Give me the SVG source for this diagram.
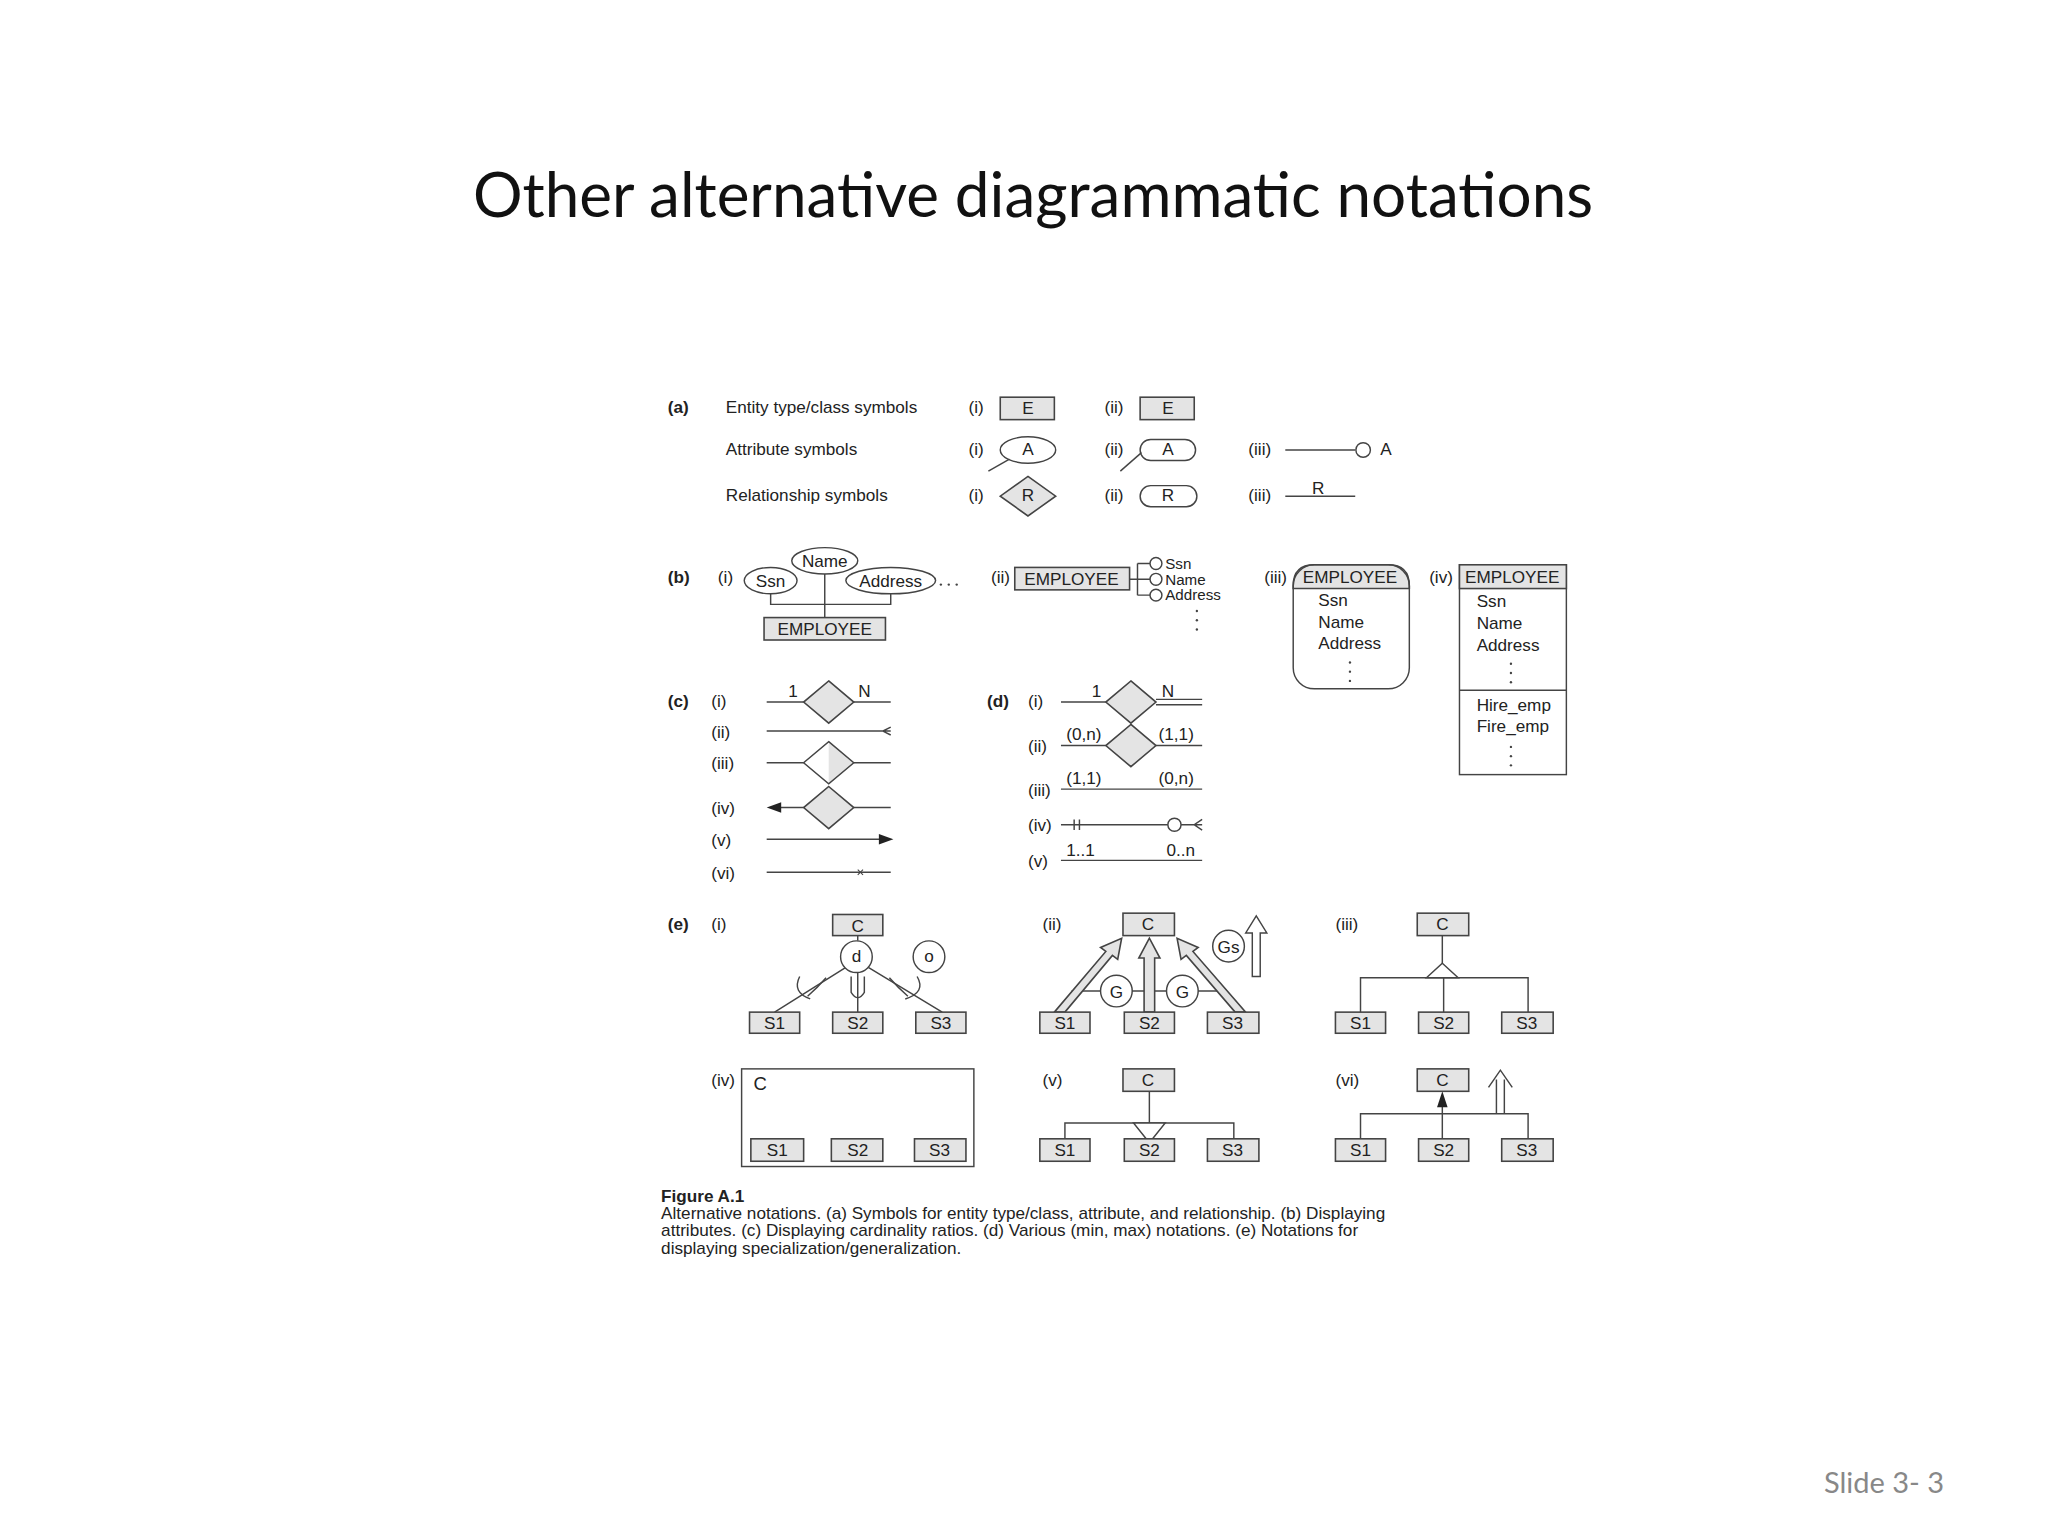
<svg xmlns="http://www.w3.org/2000/svg" width="2048" height="1536" viewBox="0 0 2048 1536">
<style>
text{font-family:"Liberation Sans",Arial,sans-serif;font-size:13px;fill:#222}
.b{font-weight:bold}
.m{text-anchor:middle}
.s{font-size:11.5px}
.g{fill:#e4e4e4;stroke:#444;stroke-width:1.2}
.w{fill:#fff;stroke:#444;stroke-width:1.1}
.l{fill:none;stroke:#444;stroke-width:1.1}
.d{fill:#444}
</style>
<rect width="2048" height="1536" fill="#fff"/>
<text x="1033" y="217" style="font-family:Lato,'Open Sans',sans-serif;font-size:62px;text-anchor:middle;fill:#111">Other alternative diagrammatic notations</text>
<text x="1944" y="1493" style="font-family:Lato,'Open Sans',sans-serif;font-size:29px;text-anchor:end;fill:#888">Slide 3- 3</text>
<g transform="scale(1.3196)">
<g id="a">
<text x="506" y="313" class="b">(a)</text>
<text x="550" y="313">Entity type/class symbols</text>
<text x="550" y="345">Attribute symbols</text>
<text x="550" y="380">Relationship symbols</text>
<text x="734" y="313">(i)</text><text x="837" y="313">(ii)</text>
<text x="734" y="345">(i)</text><text x="837" y="345">(ii)</text><text x="946" y="345">(iii)</text>
<text x="734" y="380">(i)</text><text x="837" y="380">(ii)</text><text x="946" y="380">(iii)</text>
<rect class="g" x="758" y="301" width="41" height="17"/><text x="779" y="314" class="m">E</text>
<rect class="g" x="864" y="301" width="41" height="17"/><text x="885" y="314" class="m">E</text>
<ellipse class="w" cx="779" cy="341" rx="21" ry="10"/><text x="779" y="345" class="m">A</text>
<line class="l" x1="749" y1="357" x2="765" y2="348"/>
<rect class="w" x="864" y="333" width="42" height="16" rx="8"/><text x="885" y="345" class="m">A</text>
<line class="l" x1="849" y1="357" x2="865" y2="343"/>
<line class="l" x1="974" y1="341" x2="1027" y2="341"/><circle class="w" cx="1033" cy="341" r="5.5"/><text x="1046" y="345">A</text>
<path class="g" d="M779,361L800,376L779,391L758,376z"/><text x="779" y="380" class="m">R</text>
<rect class="w" x="864" y="368" width="43" height="16" rx="8"/><text x="885" y="380" class="m">R</text>
<line class="l" x1="974" y1="376" x2="1027" y2="376"/><text x="999" y="374" class="m">R</text>
</g>
<g id="b">
<text x="506" y="442" class="b">(b)</text>
<text x="544" y="442">(i)</text>
<polyline class="l" points="584,450 584,458 675,458 675,450"/>
<line class="l" x1="625" y1="435" x2="625" y2="468"/>
<ellipse class="w" cx="584" cy="440" rx="20" ry="10"/><text x="584" y="445" class="m">Ssn</text>
<ellipse class="w" cx="625" cy="425" rx="25" ry="10"/><text x="625" y="430" class="m">Name</text>
<ellipse class="w" cx="675" cy="440" rx="34" ry="10"/><text x="675" y="445" class="m">Address</text>
<circle class="d" cx="713" cy="443" r="0.9"/><circle class="d" cx="719" cy="443" r="0.9"/><circle class="d" cx="725" cy="443" r="0.9"/>
<rect class="g" x="579" y="468" width="92" height="17"/><text x="625" y="481" class="m">EMPLOYEE</text>
<text x="751" y="442">(ii)</text>
<rect class="g" x="769" y="430" width="87" height="17"/><text x="812" y="443" class="m">EMPLOYEE</text>
<path class="l" d="M856,439H862M862,427V451M862,427H872M862,439H872M862,451H872"/>
<circle class="w" cx="876" cy="427" r="4.5"/><circle class="w" cx="876" cy="439" r="4.5"/><circle class="w" cx="876" cy="451" r="4.5"/>
<text x="883" y="431" class="s">Ssn</text><text x="883" y="443" class="s">Name</text><text x="883" y="455" class="s">Address</text>
<circle class="d" cx="907" cy="463" r="0.9"/><circle class="d" cx="907" cy="470" r="0.9"/><circle class="d" cx="907" cy="477" r="0.9"/>
<text x="958" y="442">(iii)</text>
<path class="g" d="M980,446V444Q980,428 996,428H1052Q1068,428 1068,444V446z"/>
<rect class="l" x="980" y="428" width="88" height="94" rx="16"/>
<text x="1023" y="442" class="m">EMPLOYEE</text>
<text x="999" y="459">Ssn</text><text x="999" y="476">Name</text><text x="999" y="492">Address</text>
<circle class="d" cx="1023" cy="502" r="0.9"/><circle class="d" cx="1023" cy="509" r="0.9"/><circle class="d" cx="1023" cy="516" r="0.9"/>
<text x="1083" y="442">(iv)</text>
<rect class="w" x="1106" y="428" width="81" height="159"/>
<rect class="g" x="1106" y="428" width="81" height="18"/>
<line class="l" x1="1106" y1="523" x2="1187" y2="523"/>
<text x="1146" y="442" class="m">EMPLOYEE</text>
<text x="1119" y="460">Ssn</text><text x="1119" y="477">Name</text><text x="1119" y="493">Address</text>
<circle class="d" cx="1145" cy="503" r="0.9"/><circle class="d" cx="1145" cy="510" r="0.9"/><circle class="d" cx="1145" cy="517" r="0.9"/>
<text x="1119" y="539">Hire_emp</text><text x="1119" y="555">Fire_emp</text>
<circle class="d" cx="1145" cy="566" r="0.9"/><circle class="d" cx="1145" cy="573" r="0.9"/><circle class="d" cx="1145" cy="580" r="0.9"/>
</g>
<g id="c">
<text x="506" y="536" class="b">(c)</text>
<text x="539" y="536">(i)</text><text x="539" y="559">(ii)</text><text x="539" y="583">(iii)</text>
<text x="539" y="617">(iv)</text><text x="539" y="641">(v)</text><text x="539" y="666">(vi)</text>
<path class="l" d="M581,532H609M647,532H675"/>
<path class="g" d="M628,516L647,532L628,548L609,532z"/>
<text x="601" y="528" class="m">1</text><text x="655" y="528" class="m">N</text>
<path class="l" d="M581,554H675M675,551L669,554L675,557"/>
<path class="l" d="M581,578H609M647,578H675"/>
<path d="M628,562L647,578L628,594z" fill="#e4e4e4"/>
<path class="l" d="M628,562L647,578L628,594L609,578z"/>
<path class="l" d="M588,612H609M647,612H675"/>
<path d="M581,612L592,608L592,616z" fill="#222"/>
<path class="g" d="M628,596L647,612L628,628L609,612z"/>
<path class="l" d="M581,636H668"/><path d="M677,636L666,632L666,640z" fill="#222"/>
<path class="l" d="M581,661H675"/><path class="l" d="M650,659L654,663M654,659L650,663" style="stroke-width:0.8"/>
</g>
<g id="d">
<text x="748" y="536" class="b">(d)</text>
<text x="779" y="536">(i)</text><text x="779" y="570">(ii)</text><text x="779" y="603">(iii)</text>
<text x="779" y="630">(iv)</text><text x="779" y="657">(v)</text>
<path class="l" d="M804,532H838M876,530H911M876,534H911"/>
<path class="g" d="M857,516L876,532L857,548L838,532z"/>
<text x="831" y="528" class="m">1</text><text x="885" y="528" class="m">N</text>
<path class="l" d="M804,565H838M876,565H911"/>
<path class="g" d="M857,549L876,565L857,581L838,565z"/>
<text x="808" y="561">(0,n)</text><text x="878" y="561">(1,1)</text>
<path class="l" d="M804,598H911"/>
<text x="808" y="594">(1,1)</text><text x="878" y="594">(0,n)</text>
<path class="l" d="M804,625H885M895,625H911M814,621V629M818,621V629M911,621L905,625L911,629"/>
<circle class="w" cx="890" cy="625" r="5"/>
<path class="l" d="M804,652H911"/>
<text x="808" y="649">1..1</text><text x="884" y="649">0..n</text>
</g>
<g id="e1">
<text x="506" y="705" class="b">(e)</text>
<text x="539" y="705">(i)</text>
<path class="l" d="M650,709V713M641,733L587,767M650,737V767M658,733L714,767"/>
<path class="l" d="M606,740Q600,752 614,757M626,741Q620,748 612,755M645,740V752Q650,760 655,752V740M695,740Q702,752 686,757M674,741Q680,748 688,755"/>
<rect class="g" x="631" y="693" width="38" height="16"/><text x="650" y="706" class="m">C</text>
<circle class="w" cx="649" cy="725" r="12"/><text x="649" y="729" class="m">d</text>
<circle class="w" cx="704" cy="725" r="12"/><text x="704" y="729" class="m">o</text>
<rect class="g" x="568" y="767" width="38" height="16"/><text x="587" y="780" class="m">S1</text>
<rect class="g" x="631" y="767" width="38" height="16"/><text x="650" y="780" class="m">S2</text>
<rect class="g" x="694" y="767" width="38" height="16"/><text x="713" y="780" class="m">S3</text>
</g>
<g id="e2">
<text x="790" y="705">(ii)</text>
<path class="l" d="M812,751H925"/>
<path class="g" d="M799,767L838,721L834,718L850,711L847,727L843,724L807,767z"/>
<path class="g" d="M867,767V726H863L871,711L879,726H875V767z"/>
<path class="g" d="M936,767L899,724L895,727L892,711L908,718L904,721L944,767z"/>
<circle class="w" cx="846" cy="751" r="12"/><text x="846" y="756" class="m">G</text>
<circle class="w" cx="896" cy="751" r="12"/><text x="896" y="756" class="m">G</text>
<circle class="w" cx="931" cy="717" r="12"/><text x="931" y="722" class="m">Gs</text>
<path class="w" d="M949,740V707H944L952,694L960,707H955V740z"/>
<rect class="g" x="851" y="692" width="39" height="17"/><text x="870" y="705" class="m">C</text>
<rect class="g" x="788" y="767" width="38" height="16"/><text x="807" y="780" class="m">S1</text>
<rect class="g" x="852" y="767" width="38" height="16"/><text x="871" y="780" class="m">S2</text>
<rect class="g" x="915" y="767" width="39" height="16"/><text x="934" y="780" class="m">S3</text>
</g>
<g id="e3">
<text x="1012" y="705">(iii)</text>
<path class="l" d="M1093,709V730M1031,767V741H1158V767M1094,741V767"/>
<path class="w" d="M1093,730L1105,741H1081z"/>
<rect class="g" x="1074" y="692" width="39" height="17"/><text x="1093" y="705" class="m">C</text>
<rect class="g" x="1012" y="767" width="38" height="16"/><text x="1031" y="780" class="m">S1</text>
<rect class="g" x="1075" y="767" width="38" height="16"/><text x="1094" y="780" class="m">S2</text>
<rect class="g" x="1138" y="767" width="39" height="16"/><text x="1157" y="780" class="m">S3</text>
</g>
<g id="e4">
<text x="539" y="823">(iv)</text>
<rect class="l" x="562" y="810" width="176" height="74"/>
<text x="571" y="826" style="font-size:14px">C</text>
<rect class="g" x="569" y="863" width="40" height="17"/><text x="589" y="876" class="m">S1</text>
<rect class="g" x="630" y="863" width="39" height="17"/><text x="650" y="876" class="m">S2</text>
<rect class="g" x="693" y="863" width="39" height="17"/><text x="712" y="876" class="m">S3</text>
</g>
<g id="e5">
<text x="790" y="823">(v)</text>
<path class="l" d="M871,827V851M807,863V851H935V863M871,866V863"/>
<path class="w" d="M859,851H883L871,866z"/>
<rect class="g" x="851" y="810" width="39" height="17"/><text x="870" y="823" class="m">C</text>
<rect class="g" x="788" y="863" width="38" height="17"/><text x="807" y="876" class="m">S1</text>
<rect class="g" x="852" y="863" width="38" height="17"/><text x="871" y="876" class="m">S2</text>
<rect class="g" x="915" y="863" width="39" height="17"/><text x="934" y="876" class="m">S3</text>
</g>
<g id="e6">
<text x="1012" y="823">(vi)</text>
<path class="l" d="M1031,863V844H1158V863M1093,863V838"/>
<path d="M1093,827L1089,839H1097z" fill="#222"/>
<path class="l" d="M1134,844V818M1140,844V818M1128,824L1137,811L1146,824"/>
<rect class="g" x="1074" y="810" width="39" height="17"/><text x="1093" y="823" class="m">C</text>
<rect class="g" x="1012" y="863" width="38" height="17"/><text x="1031" y="876" class="m">S1</text>
<rect class="g" x="1075" y="863" width="38" height="17"/><text x="1094" y="876" class="m">S2</text>
<rect class="g" x="1138" y="863" width="39" height="17"/><text x="1157" y="876" class="m">S3</text>
</g>
<g id="caption">
<text x="501" y="911" class="b">Figure A.1</text>
<text x="501" y="924">Alternative notations. (a) Symbols for entity type/class, attribute, and relationship. (b) Displaying</text>
<text x="501" y="937">attributes. (c) Displaying cardinality ratios. (d) Various (min, max) notations. (e) Notations for</text>
<text x="501" y="950">displaying specialization/generalization.</text>
</g>
</g>
</svg>
